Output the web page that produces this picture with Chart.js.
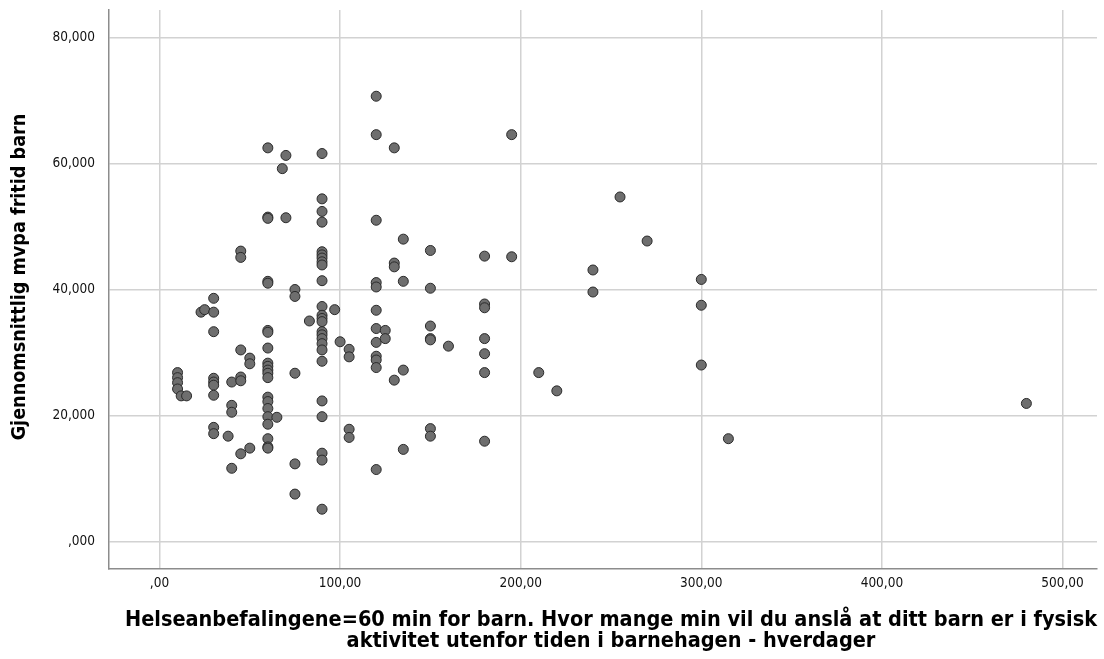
<!DOCTYPE html>
<html>
<head>
<meta charset="utf-8">
<script src="https://cdn.jsdelivr.net/npm/chart.js@4.4.1/dist/chart.umd.min.js"></script>
<style>
  html, body { margin: 0; padding: 0; background: #fff; }
  #wrap { width: 1104px; height: 659px; position: relative; }
</style>
</head>
<body>
<div id="wrap"><canvas id="chart"></canvas></div>
<script>
// minutes per weekday (x) and mean mvpa leisure time (y)
const minutesX = [
  10, 10, 10, 10, 12, 15, 23, 25,
  30, 30, 30, 30, 30, 30, 30, 30, 30,
  38, 40, 40, 40, 40,
  45, 45, 45, 45, 45, 45, 50, 50, 50,
  60, 60, 60, 60, 60, 60, 60, 60, 60, 60, 60, 60, 60, 60, 60, 60, 60, 60, 60, 60, 60,
  65, 68, 70, 70, 75, 75, 75, 75, 75, 83,
  90, 90, 90, 90, 90, 90, 90, 90, 90, 90, 90, 90, 90, 90, 90, 90, 90, 90, 90, 90, 90, 90, 90, 90, 90,
  97, 100, 105, 105, 105, 105,
  120, 120, 120, 120, 120, 120, 120, 120, 120, 120, 120, 120,
  125, 125, 130, 130, 130, 130, 135, 135, 135, 135,
  150, 150, 150, 150, 150, 150, 150, 160,
  180, 180, 180, 180, 180, 180, 180,
  195, 195, 210, 220, 240, 240, 255, 270, 300, 300, 300, 315, 480
];
const mvpaY = [
  26.8, 26.0, 25.2, 24.2, 23.1, 23.1, 36.4, 36.8,
  38.6, 36.4, 33.3, 25.9, 25.3, 24.8, 23.2, 18.1, 17.1,
  16.7, 25.3, 21.6, 20.5, 11.6,
  46.1, 45.1, 30.4, 26.1, 25.5, 13.9, 29.1, 28.2, 14.8,
  62.5, 51.5, 51.3, 41.3, 41.0, 33.5, 33.2, 30.7, 28.3, 27.8, 27.2, 26.7, 26.0, 22.9, 22.2, 21.1, 19.8, 18.6, 16.3, 15.0, 14.8,
  19.7, 59.2, 61.3, 51.4, 40.0, 38.9, 26.7, 12.3, 7.5, 35.0,
  61.6, 54.4, 52.4, 50.7, 46.0, 45.5, 45.0, 44.4, 43.9, 41.4, 37.3, 35.9, 35.4, 34.9, 33.3, 32.8, 32.2, 31.4, 30.4, 28.6, 22.3, 19.8, 14.0, 12.9, 5.1,
  36.8, 31.7, 30.5, 29.3, 17.8, 16.5,
  70.7, 64.6, 51.0, 41.1, 40.4, 36.7, 33.8, 31.6, 29.4, 28.8, 27.6, 11.4,
  33.5, 32.2, 62.5, 44.2, 43.6, 25.6, 48.0, 41.3, 27.2, 14.6,
  46.2, 40.2, 34.2, 32.2, 32.0, 17.9, 16.7, 31.0,
  45.3, 37.7, 37.1, 32.2, 29.8, 26.8, 15.9,
  64.6, 45.2, 26.8, 23.9, 43.1, 39.6, 54.7, 47.7, 41.6, 37.5, 28.0, 16.3, 21.9
];

const xTicks = [0, 100, 200, 300, 400, 500];
const xTickLabels = [',00', '100,00', '200,00', '300,00', '400,00', '500,00'];
const yTicks = [0, 20, 40, 60, 80];
const yTickLabels = [',000', '20,000', '40,000', '60,000', '80,000'];

const xTitle = ['Helseanbefalingene=60 min for barn. Hvor mange min vil du anslå at ditt barn er i fysisk',
                'aktivitet utenfor tiden i barnehagen - hverdager'];
const yTitle = 'Gjennomsnittlig mvpa fritid barn';

const points = minutesX.map((x, i) => ({ x: x, y: mvpaY[i] }));

const FAMILY = '"DejaVu Sans Condensed", "DejaVu Sans", sans-serif';
const tickFont = { family: FAMILY, size: 13.5 };

// axis titles drawn by hand so they can sit where SPSS puts them
const axisTitles = {
  id: 'axisTitles',
  afterDraw(chart) {
    const ctx = chart.ctx;
    ctx.save();
    ctx.fillStyle = '#000';
    ctx.textAlign = 'center';
    ctx.textBaseline = 'middle';
    ctx.font = 'bold 21.5px ' + FAMILY;
    ctx.fillText(xTitle[0], 611, 620);
    ctx.fillText(xTitle[1], 611, 641);
    ctx.translate(20, 277);
    ctx.rotate(-Math.PI / 2);
    ctx.font = 'bold 19.6px ' + FAMILY;
    ctx.fillText(yTitle, 0, 0);
    ctx.restore();
  }
};

new Chart(document.getElementById('chart'), {
  type: 'scatter',
  data: {
    datasets: [{
      data: points,
      pointRadius: 5,
      pointHoverRadius: 5,
      backgroundColor: '#6e6e6e',
      borderColor: '#2a2a2a',
      borderWidth: 1
    }]
  },
  plugins: [axisTitles],
  options: {
    responsive: true,
    maintainAspectRatio: false,
    animation: false,
    events: [],
    layout: { padding: { top: 10, right: 7, bottom: 0, left: 0 } },
    plugins: { legend: { display: false }, tooltip: { enabled: false } },
    scales: {
      x: {
        type: 'linear',
        min: -27.96,
        max: 519.1,
        afterBuildTicks: (s) => { s.ticks = xTicks.map(v => ({ value: v })); },
        afterFit: (s) => { s.height = 90.5; s.paddingLeft = 0; s.paddingRight = 0; },
        ticks: {
          color: '#111',
          font: tickFont,
          padding: 7,
          maxRotation: 0,
          callback: (v) => xTickLabels[xTicks.indexOf(v)]
        },
        grid: { color: '#d2d2d2', lineWidth: 1.5, drawTicks: false },
        border: { display: true, color: '#8c8c8c', width: 1.5 }
      },
      y: {
        type: 'linear',
        min: -4.32,
        max: 84.4,
        afterBuildTicks: (s) => { s.ticks = yTicks.map(v => ({ value: v })); },
        afterFit: (s) => { s.width = 109; s.paddingTop = 0; s.paddingBottom = 0; },
        ticks: {
          color: '#111',
          font: tickFont,
          padding: 14,
          callback: (v) => yTickLabels[yTicks.indexOf(v)]
        },
        grid: { color: '#d2d2d2', lineWidth: 1.5, drawTicks: false },
        border: { display: true, color: '#8c8c8c', width: 1.5 }
      }
    }
  }
});
</script>
</body>
</html>
